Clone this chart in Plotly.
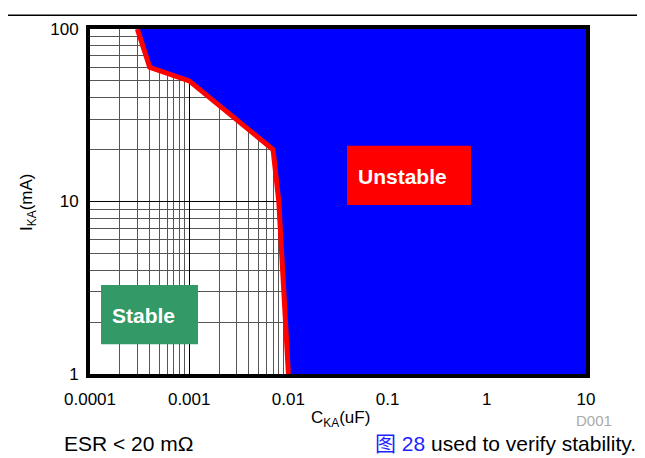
import plotly.graph_objects as go

# Stability boundary (C_KA in uF, I_KA in mA)
boundary_c = [0.0003, 0.0004, 0.001, 0.007, 0.008, 0.01]
boundary_i = [100, 60, 50, 20, 10, 1]

x_tick_vals = [0.0001, 0.001, 0.01, 0.1, 1, 10]
x_tick_text = ["0.0001", "0.001", "0.01", "0.1", "1", "10"]
y_tick_vals = [1, 10, 100]
y_tick_text = ["1", "10", "100"]

# page body has an 8px margin; work in screenshot pixels and shift
OFF = 8
W, H = 645 - OFF, 458 - OFF
L, R, T, B = 90 - OFF, 586 - OFF, 25 - OFF, 374 - OFF
pw, ph = R - L, B - T

def px(x):
    return (x - OFF - L) / pw

def py(y):
    return (B - (y - OFF)) / ph

minor_x = [m * 10 ** e for e in range(-4, 1) for m in range(2, 10)]
minor_y = [m * 10 ** e for e in range(0, 2) for m in range(2, 10)]

fig = go.Figure()
fig.add_trace(go.Scatter(
    x=boundary_c + [10, 10], y=boundary_i + [1, 100],
    mode="lines", fill="toself", fillcolor="#0000FF",
    line=dict(width=0, color="#0000FF"), hoverinfo="skip", showlegend=False))
fig.add_trace(go.Scatter(
    x=boundary_c, y=boundary_i, mode="lines",
    line=dict(color="#FF0000", width=5), showlegend=False))

FONT = "Liberation Sans, Arial, sans-serif"

fig.update_xaxes(type="log", range=[-4, 1], tickvals=x_tick_vals, ticktext=x_tick_text,
                 showgrid=True, gridcolor="#000000", gridwidth=1,
                 minor=dict(tickvals=minor_x, showgrid=True, gridcolor="#555555", gridwidth=1),
                 showline=True, linecolor="#000000", linewidth=4, mirror=True,
                 ticks="outside", ticklen=7, tickcolor="rgba(0,0,0,0)",
                 tickfont=dict(family=FONT, size=17, color="#000000"),
                 zeroline=False)
fig.update_yaxes(type="log", range=[0, 2], tickvals=y_tick_vals, ticktext=y_tick_text,
                 showgrid=True, gridcolor="#000000", gridwidth=1,
                 minor=dict(tickvals=minor_y, showgrid=True, gridcolor="#555555", gridwidth=1),
                 showline=True, linecolor="#000000", linewidth=4, mirror=True,
                 ticks="outside", ticklen=4, tickcolor="rgba(0,0,0,0)",
                 tickfont=dict(family=FONT, size=17, color="#000000"),
                 zeroline=False)

shapes = [
    dict(type="line", xref="paper", yref="paper", x0=px(0), x1=px(645), y0=py(11), y1=py(11),
         line=dict(color="#000000", width=1.5)),
    dict(type="rect", xref="paper", yref="paper", x0=px(347), x1=px(471), y0=py(203), y1=py(143),
         fillcolor="#FF0000", line=dict(width=0)),
    dict(type="rect", xref="paper", yref="paper", x0=px(101), x1=px(198), y0=py(344), y1=py(284),
         fillcolor="#339966", line=dict(width=0)),
]

def ann(text, x, y, size, color="#000000", xanchor="center", angle=0, family=FONT):
    return dict(text=text, x=px(x), y=py(y), xref="paper", yref="paper",
                xanchor=xanchor, yanchor="middle", textangle=angle, showarrow=False,
                font=dict(family=family, size=size, color=color))

annotations = [
    ann("<b>Unstable</b>", 402, 174, 21, "#FFFFFF"),
    ann("<b>Stable</b>", 143, 315, 21, "#FFFFFF"),
    ann("C<sub>KA</sub>(uF)", 340, 420, 17),
    ann("I<sub>KA</sub>(mA)", 28, 201, 17, angle=-90),
    ann("D001", 614, 421, 15, "#AAAAAA", xanchor="right"),
    ann("ESR &lt; 20 mΩ", 62, 444, 21, xanchor="left"),
    ann("<span style='color:#1f1fff'>图 28</span> used to verify stability.", 638, 444, 21,
        xanchor="right", family="Liberation Sans, Noto Sans CJK SC, sans-serif"),
]

fig.update_layout(width=W, height=H, margin=dict(l=L, r=W - R, t=T, b=H - B),
                  plot_bgcolor="#FFFFFF", paper_bgcolor="#FFFFFF",
                  shapes=shapes, annotations=annotations, showlegend=False)

fig.write_html("out.html")
